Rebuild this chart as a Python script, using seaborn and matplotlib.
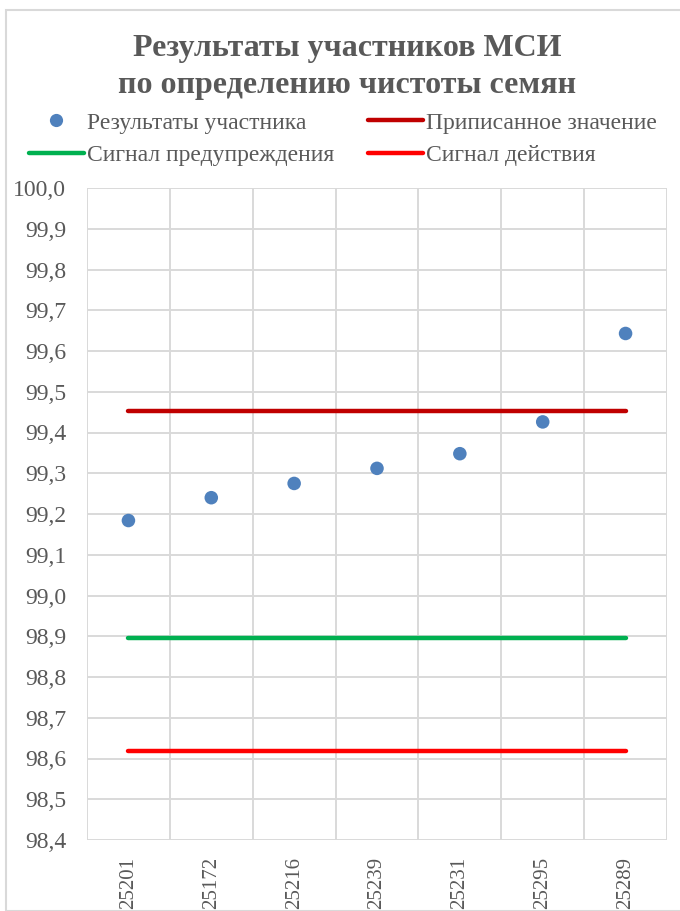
import matplotlib
matplotlib.use("Agg")
import matplotlib.pyplot as plt
import seaborn as sns
import pandas as pd
from matplotlib.lines import Line2D
from matplotlib.patches import Rectangle
from matplotlib.ticker import FuncFormatter, MultipleLocator

participants = ["25201", "25172", "25216", "25239", "25231", "25295", "25289"]
results = [99.184, 99.240, 99.275, 99.312, 99.348, 99.426, 99.643]
assigned_value = 99.452
warning_signal = 98.896
action_signal = 98.618

title = "Результаты участников МСИ\nпо определению чистоты семян"
labels = ["Результаты участника", "Приписанное значение",
          "Сигнал предупреждения", "Сигнал действия"]

sns.set_theme(style="white")
plt.rcParams["font.family"] = ["Liberation Serif", "DejaVu Serif"]

W, H = 680, 911
fig = plt.figure(figsize=(W / 100, H / 100), dpi=100)
ax = fig.add_axes([87 / W, 1 - 840 / H, (667 - 87) / W, (840 - 188) / H])

idx = list(range(len(participants)))
df = pd.DataFrame({"x": idx, "y": results,
                   "assigned": [assigned_value] * len(idx),
                   "warning": [warning_signal] * len(idx),
                   "action": [action_signal] * len(idx)})

grid_c = "#D9D9D9"
for v in [i / 10 for i in range(984, 1001)]:
    ax.axhline(v, color=grid_c, lw=1.4, zorder=0)
for b in [i + 0.5 for i in range(-1, len(idx))]:
    ax.axvline(b, color=grid_c, lw=1.4, zorder=0)

c_pts = "#4F81BD"
c_ass = "#C00000"
c_warn = "#00B050"
c_act = "#FF0000"

sns.lineplot(data=df, x="x", y="assigned", color=c_ass, lw=3.2, ax=ax, zorder=3)
sns.lineplot(data=df, x="x", y="warning", color=c_warn, lw=3.2, ax=ax, zorder=3)
sns.lineplot(data=df, x="x", y="action", color=c_act, lw=3.2, ax=ax, zorder=3)
sns.scatterplot(data=df, x="x", y="y", color=c_pts, s=95, edgecolor="none", ax=ax, zorder=4)

ax.set_xlim(-0.5, len(idx) - 0.5)
ax.set_ylim(98.4, 100.0)
ax.yaxis.set_major_locator(MultipleLocator(0.1))
ax.yaxis.set_major_formatter(FuncFormatter(lambda v, p: f"{v:.1f}".replace(".", ",")))
ax.set_xticks(idx)
ax.set_xticklabels(participants, rotation=90)
ax.set_xlabel("")
ax.set_ylabel("")
for s in ax.spines.values():
    s.set_visible(False)
ax.tick_params(axis="both", length=0, colors="#595959")
ax.tick_params(axis="y", labelsize=17, pad=15)
ax.tick_params(axis="x", labelsize=15, pad=12)

fig.text(347 / W, 1 - 67 / H, title, ha="center", va="center",
         fontsize=23, fontweight="bold", color="#595959", linespacing=1.34)

# row-major order for a 2-column legend
handles_map = {
    labels[0]: Line2D([], [], marker="o", color="none", markerfacecolor=c_pts,
                      markeredgecolor="none", markersize=9.5),
    labels[1]: Line2D([], [], color=c_ass, lw=3.2),
    labels[2]: Line2D([], [], color=c_warn, lw=3.2),
    labels[3]: Line2D([], [], color=c_act, lw=3.2),
}
order = [labels[0], labels[2], labels[1], labels[3]]
leg = fig.legend([handles_map[k] for k in order], order, ncol=2, loc="center",
                 bbox_to_anchor=(343 / W, 1 - 139 / H),
                 frameon=False, fontsize=17, handlelength=2.33, handletextpad=0.13,
                 columnspacing=1.44, labelspacing=0.46, borderaxespad=0, borderpad=0)
for t in leg.get_texts():
    t.set_color("#595959")

fig.patches.append(Rectangle((6 / W, 0), 1.0, 1 - 10 / H, transform=fig.transFigure,
                             fill=False, edgecolor=grid_c, lw=1.5))

fig.savefig("out.png", dpi=100)
